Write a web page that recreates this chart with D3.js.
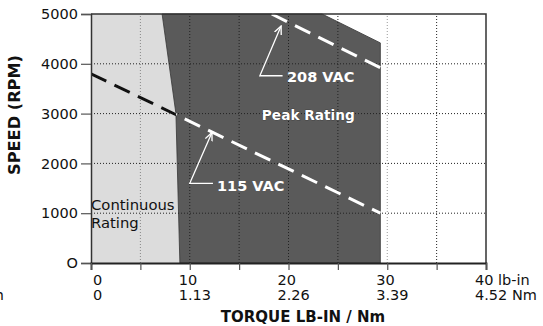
<!DOCTYPE html>
<html><head><meta charset="utf-8">
<script src="https://cdn.jsdelivr.net/npm/d3@7"></script>
<style>
body{margin:0;background:#fff;}
text{font-family:"DejaVu Sans",sans-serif;}
</style></head>
<body><svg id="c" width="543" height="326"></svg>
<script>
// ---- data ----
const lbTicks = [0, 10, 20, 30, 40];
const nmLabels = ["0", "1.13", "2.26", "3.39", "4.52"];
const minorTicks = [5, 15, 25, 35];
const speedTicks = [0, 1000, 2000, 3000, 4000, 5000];
// continuous rating region boundary (torque lb-in, speed rpm)
const continuousEdge = [[0,5000],[7.2,5000],[8.6,3000],[9.0,0],[0,0]];
// peak rating region
const peakEdge = [[7.2,5000],[23.4,5000],[29.3,4420],[29.3,0],[9.0,0],[8.6,3000]];
// voltage curves
const line115 = [[0,3800],[29.3,1000]];
const line208 = [[18.3,5000],[29.3,3920]];
// annotation leaders: [start, corner, tip]
const leader208 = [[19.4,3760],[17.1,3760],[19.25,4760]];
const leader115 = [[12.35,1600],[10.0,1600],[12.25,2620]];

const svg = d3.select("#c");
const M = {l:91, r:486, t:14, b:263};
const x = d3.scaleLinear().domain([0,40]).range([M.l, M.r]);
const y = d3.scaleLinear().domain([0,5000]).range([M.b, M.t]);
const line = d3.line().x(d=>x(d[0])).y(d=>y(d[1]));

const defs = svg.append("defs");
defs.append("clipPath").attr("id","contClip").append("path").attr("d", line(continuousEdge)+"Z");
defs.append("marker").attr("id","arr").attr("viewBox","0 0 10 10").attr("refX",9).attr("refY",5)
  .attr("markerWidth",7).attr("markerHeight",7).attr("orient","auto")
  .append("path").attr("d","M0,1 L9,5 L0,9").attr("fill","none").attr("stroke","#fff").attr("stroke-width",1.5);

// regions
svg.append("path").attr("d", line(continuousEdge)+"Z").attr("fill","#dcdcdc");
svg.append("path").attr("d", line(peakEdge)+"Z").attr("fill","#5a5a5a").attr("stroke","#333").attr("stroke-width",0.8);

// gridlines
const grid = svg.append("g").attr("stroke","#222").attr("stroke-width",1).attr("stroke-dasharray","1,2");
[5,10,15,20,25,30,35].forEach(v=>{
  grid.append("line").attr("x1",x(v)).attr("x2",x(v)).attr("y1",y(0)).attr("y2",y(5000))
    .attr("stroke", v===30 ? "#999" : (v===5 ? "#888" : "#222"));
});
[1000,2000,3000,4000].forEach(v=>{
  grid.append("line").attr("x1",x(0)).attr("x2",x(40)).attr("y1",y(v)).attr("y2",y(v));
});

// voltage lines
svg.append("path").attr("d", line(line115)).attr("fill","none").attr("stroke","#fff")
  .attr("stroke-width",3).attr("stroke-dasharray","17,9");
svg.append("path").attr("d", line(line115)).attr("fill","none").attr("stroke","#111")
  .attr("stroke-width",3).attr("stroke-dasharray","17,9").attr("clip-path","url(#contClip)");
svg.append("path").attr("d", line(line208)).attr("fill","none").attr("stroke","#fff")
  .attr("stroke-width",3).attr("stroke-dasharray","17,9");

// leaders
[leader208, leader115].forEach(L=>{
  svg.append("path").attr("d", line(L)).attr("fill","none").attr("stroke","#fff")
    .attr("stroke-width",1.3).attr("marker-end","url(#arr)");
});
svg.append("text").attr("x",x(19.85)).attr("y",y(3640)).text("208 VAC")
  .attr("fill","#fff").attr("font-weight","bold").attr("font-size",14.5);
svg.append("text").attr("x",x(12.76)).attr("y",y(1440)).text("115 VAC")
  .attr("fill","#fff").attr("font-weight","bold").attr("font-size",14.5);
svg.append("text").attr("x",x(17.3)).attr("y",y(2880)).text("Peak Rating")
  .attr("fill","#fff").attr("font-weight","bold").attr("font-size",13.7)
  .attr("stroke","#2a2a2a").attr("stroke-width",0.6).attr("paint-order","stroke");
svg.append("text").attr("font-size",14.8).attr("fill","#111")
  .attr("x",x(0)).attr("y",y(1060)).text("Continuous");
svg.append("text").attr("font-size",14.8).attr("fill","#111")
  .attr("x",x(0)).attr("y",y(700)).text("Rating");

// frame
svg.append("path").attr("d",`M${x(0)},${y(5000)}H${x(40)}V${y(0)}`).attr("fill","none")
  .attr("stroke","#333").attr("stroke-width",1.5);

// axes
const yAxis = d3.axisLeft(y).tickValues(speedTicks).tickSize(10).tickPadding(3).tickFormat(d=>d===0?"O":d);
const gy = svg.append("g").attr("transform",`translate(${x(0)},0)`).call(yAxis);
gy.select(".domain").attr("stroke","#333").attr("stroke-width",1.5);
gy.selectAll(".tick line").attr("stroke","#555").attr("stroke-width",1.2);
gy.selectAll("text").attr("font-size",14.5).attr("fill","#111").attr("font-family","DejaVu Sans");

const xAxis = d3.axisBottom(x).tickValues(lbTicks.concat(minorTicks)).tickSize(7).tickFormat("");
const gx = svg.append("g").attr("transform",`translate(0,${y(0)})`).call(xAxis);
gx.select(".domain").attr("stroke","#222").attr("stroke-width",1.8);
gx.selectAll(".tick line").attr("stroke","#555").attr("stroke-width",1.2);

lbTicks.forEach((v,i)=>{
  const sx = i===0 ? x(v)+2 : x(v)-11;
  svg.append("text").attr("x",sx).attr("y",285).attr("font-size",14.5).attr("fill","#111")
    .text(v + (i===lbTicks.length-1 ? " lb-in" : ""));
  svg.append("text").attr("x",sx).attr("y",300).attr("font-size",14.5).attr("fill","#111")
    .text(nmLabels[i] + (i===lbTicks.length-1 ? " Nm" : ""));
});
svg.append("text").attr("x",4).attr("y",300).attr("text-anchor","end").attr("font-size",14.5).attr("fill","#111").text("Nm");

svg.append("text").attr("x",303).attr("y",322).attr("text-anchor","middle")
  .attr("font-weight","bold").attr("font-size",15).attr("fill","#111").text("TORQUE LB-IN / Nm");
svg.append("text").attr("transform",`translate(20,115) rotate(-90)`).attr("text-anchor","middle")
  .attr("font-weight","bold").attr("font-size",15).attr("fill","#111")
  .attr("textLength",120).attr("lengthAdjust","spacingAndGlyphs").text("SPEED (RPM)");
</script></body></html>
